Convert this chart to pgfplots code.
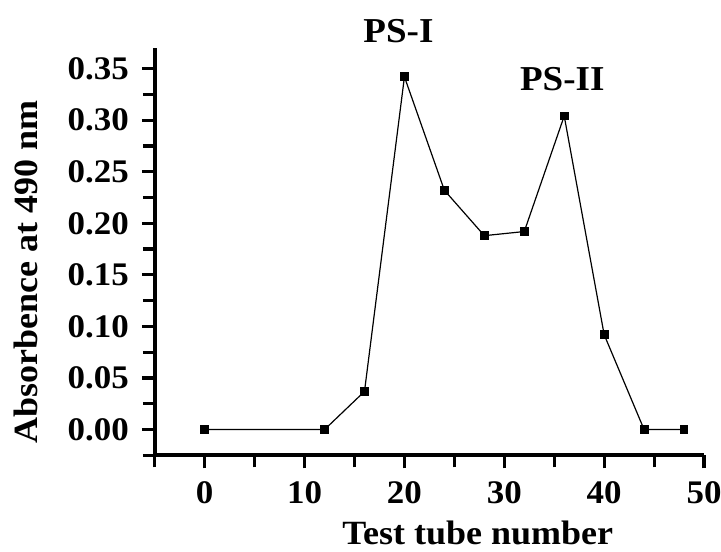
\documentclass[border=0pt]{standalone}
\usepackage{fontspec}
\setmainfont{Liberation Serif}[FakeStretch=1.06]
\usepackage{pgfplots}
\pgfplotsset{compat=1.18}

\begin{document}
\begin{tikzpicture}
\begin{axis}[
    scale only axis,
    width=275pt, height=204pt,
    xmin=-5, xmax=50,
    ymin=-0.025, ymax=0.37,
    axis x line=bottom, axis y line=left,
    axis line style={-, line width=2pt},
    xtick={0,10,...,50},
    minor xtick={-5,5,...,45},
    ytick={0,0.05,...,0.35},
    minor ytick={-0.025,0.025,...,0.325},
    tick align=outside,
    major tick length=6.5pt, minor tick length=6pt,
    every tick/.style={black, line width=1.6pt},
    /pgf/number format/assume math mode=true,
    yticklabel style={/pgf/number format/fixed, /pgf/number format/fixed zerofill,
                      /pgf/number format/precision=2, xshift=-3pt},
    ticklabel style={font=\bfseries\fontsize{16.5}{18}\selectfont},
    xticklabel style={yshift=-3pt},
    xlabel={\bfseries Test tube number},
    ylabel={\bfseries Absorbence at 490 nm},
    label style={font=\fontsize{17}{19}\selectfont},
    xlabel style={at={(axis description cs:0.588,-0.191)}, anchor=center},
    ylabel style={at={(axis description cs:-0.235,0.451)}, anchor=center, rotate=0},
    clip=false,
]
\addplot[black, line width=0.6pt, mark=square*, mark size=1.9pt,
         mark options={solid, fill=black}] coordinates {
    (0,0) (12,0) (16,0.037) (20,0.342) (24,0.232) (28,0.188)
    (32,0.192) (36,0.304) (40,0.092) (44,0) (48,0)
};
\node[font=\bfseries\fontsize{17.5}{19}\selectfont] at (axis cs:19.4,0.386) {PS-I};
\node[font=\bfseries\fontsize{17.5}{19}\selectfont] at (axis cs:35.8,0.340) {PS-II};
\end{axis}
\pgfresetboundingbox
\path ([xshift=-77.5pt, yshift=-48pt]current axis.south west)
      ([xshift=8.5pt, yshift=24pt]current axis.north east);
\end{tikzpicture}
\end{document}
